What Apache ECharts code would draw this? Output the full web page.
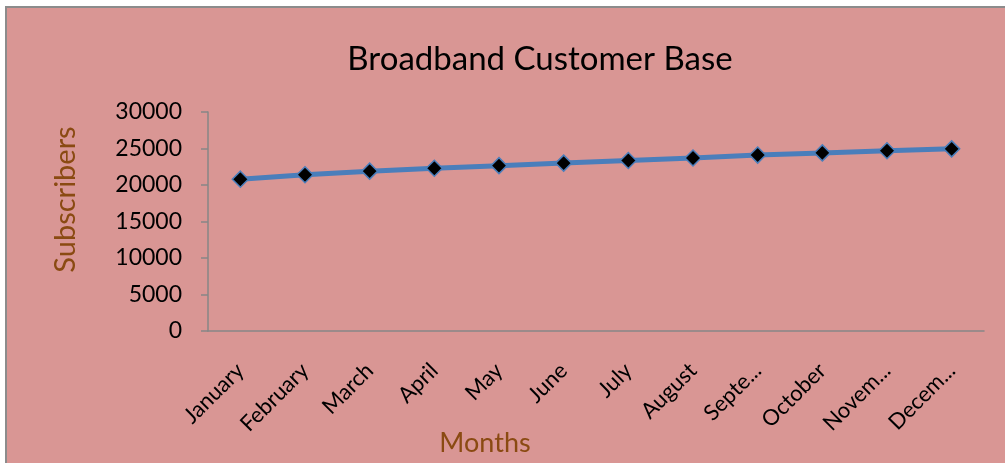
<!DOCTYPE html>
<html>
<head>
<meta charset="utf-8">
<script src="https://cdn.jsdelivr.net/npm/echarts@6/dist/echarts.min.js"></script>
<style>
  html, body { margin: 0; padding: 0; background: #fff; }
  #chart { width: 1005px; height: 463px; }
</style>
</head>
<body>
<div id="chart"></div>
<script>
// monthly subscriber counts
var months = ['January', 'February', 'March', 'April', 'May', 'June', 'July',
    'August', 'Septe...', 'October', 'Novem...', 'Decem...'];
var subscribers = [20800, 21400, 21900, 22300, 22650, 23000, 23350,
    23700, 24100, 24400, 24700, 24950];
var yTicks = [0, 5000, 10000, 15000, 20000, 25000, 30000];

var font = 'Lato, "Open Sans", sans-serif';
var brown = '#8a4a12';

var chart = echarts.init(document.getElementById('chart'));

chart.setOption({
    backgroundColor: '#fff',
    animation: false,
    graphic: [{
        type: 'rect',
        z: -10,
        shape: { x: 6, y: 7, width: 1100, height: 600 },
        style: { fill: '#d99694', stroke: '#8c8c8c', lineWidth: 2 }
    }],
    title: {
        text: 'Broadband Customer Base',
        left: 535,
        top: 38,
        textAlign: 'center',
        textStyle: { fontFamily: font, fontSize: 33, fontWeight: 'normal', color: '#000' }
    },
    grid: { left: 208, right: 21, top: 112, bottom: 132, containLabel: false, outerBoundsMode: 'none' },
    xAxis: {
        type: 'category',
        data: months,
        name: 'Months',
        nameLocation: 'middle',
        nameGap: 99,
        nameMoveOverlap: false,
        nameTextStyle: { fontFamily: font, fontSize: 27, color: brown, padding: [0, 222, 0, 0] },
        axisLine: { lineStyle: { color: '#868686', width: 1.5 } },
        axisTick: { length: 6, lineStyle: { color: '#868686', width: 1.5 } },
        axisLabel: {
            rotate: 45,
            interval: 0,
            margin: 36,
            fontFamily: font,
            fontSize: 22,
            color: '#000'
        }
    },
    yAxis: {
        type: 'value',
        min: yTicks[0],
        max: yTicks[yTicks.length - 1],
        interval: yTicks[1] - yTicks[0],
        name: 'Subscribers',
        nameLocation: 'middle',
        nameGap: 128,
        nameMoveOverlap: false,
        nameTextStyle: { fontFamily: font, fontSize: 29, color: brown, padding: [0, 0, 0, 44] },
        axisLine: { show: true, lineStyle: { color: '#868686', width: 1.5 } },
        axisTick: { show: true, length: 7, lineStyle: { color: '#868686', width: 1.5 } },
        splitLine: { show: false },
        axisLabel: {
            margin: 26,
            fontFamily: font,
            fontSize: 23,
            color: '#000',
            formatter: function (v) { return String(v); }
        }
    },
    series: [{
        type: 'line',
        data: subscribers,
        symbol: 'diamond',
        symbolSize: 16,
        lineStyle: { color: '#4a7ebb', width: 5 },
        itemStyle: { color: '#000', borderColor: '#4a7ebb', borderWidth: 1.5 }
    }]
});
</script>
</body>
</html>
